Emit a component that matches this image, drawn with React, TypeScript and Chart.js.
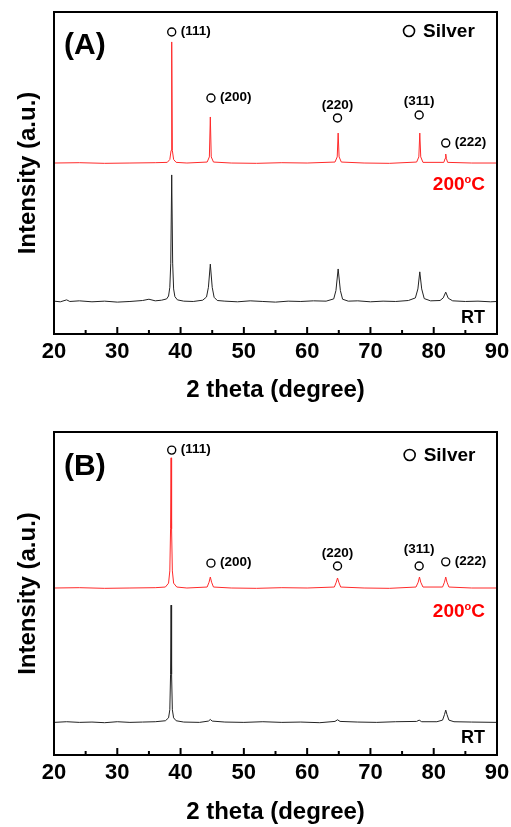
import React, { useEffect, useRef } from 'react';
import { Chart, registerables } from 'chart.js';

Chart.register(...registerables);

const FONT = "'Liberation Sans', Arial, Helvetica, sans-serif";

const X_MIN = 20;
const X_MAX = 90;
const X_TICK_STEP = 5;
const Y_MIN = 0;
const Y_MAX = 100;
const X_TITLE = '2 theta (degree)';
const Y_TITLE = 'Intensity (a.u.)';

const PEAK_LABELS = ['(111)', '(200)', '(220)', '(311)', '(222)'];
const PEAK_LABEL_SIDE = ['right', 'right', 'top', 'top', 'right'];
const LEGEND_TEXT = 'Silver';
const TEMP_MAIN = '200';
const TEMP_SUP = 'o';
const TEMP_UNIT = 'C';
const RT_TEXT = 'RT';

// Panel A ------------------------------------------------------------
const A_RT: [number, number][] = [
  [20, 10.2], [21, 10.0], [22, 10.6], [22.5, 10.1], [24, 10.3], [26, 10.0], [28, 10.2], [30, 9.9],
  [32, 10.1], [34, 10.4], [35, 10.8], [36, 10.3], [37, 10.5], [37.8, 10.9], [38.1, 11.8], [38.3, 14.5],
  [38.45, 22], [38.6, 49.4], [38.75, 22], [38.9, 14], [39.1, 11.6], [39.5, 10.6], [40.5, 10.2], [42, 10.1],
  [43.5, 10.5], [44.1, 11.5], [44.4, 14.5], [44.7, 21.7], [45.0, 14.5], [45.3, 11.4], [45.8, 10.4], [47, 10.2],
  [49, 10.0], [51, 10.3], [53, 10.1], [55, 9.9], [57, 10.2], [59, 10.1], [61, 10.3], [63, 10.2],
  [64.2, 10.9], [64.55, 13.5], [64.9, 20.2], [65.25, 13.5], [65.6, 10.8], [66.5, 10.2], [68, 10.3], [70, 10.0],
  [72, 10.2], [74, 10.1], [76, 10.4], [77.1, 11.2], [77.5, 14], [77.8, 19.3], [78.1, 14], [78.5, 11],
  [79.5, 10.3], [81, 10.4], [81.5, 11.2], [81.9, 13], [82.3, 11.1], [83, 10.3], [85, 10.1], [87, 10.2],
  [89, 10.0], [90, 10.1],
];
const A_200C: [number, number][] = [
  [20, 53.1], [24, 53.2], [28, 53.0], [32, 53.1], [36, 53.2], [37.9, 53.3], [38.3, 54.2], [38.5, 57],
  [38.6, 90.7], [38.7, 57], [38.9, 54.2], [39.3, 53.3], [41, 53.1], [44.2, 53.4], [44.55, 55], [44.7, 67.4],
  [44.85, 55], [45.2, 53.4], [48, 53.1], [52, 53.0], [56, 53.2], [60, 53.1], [64.4, 53.4], [64.75, 55],
  [64.9, 62.4], [65.05, 55], [65.4, 53.4], [69, 53.1], [73, 53.0], [77.3, 53.4], [77.65, 55], [77.8, 62.4],
  [77.95, 55], [78.3, 53.3], [81.6, 53.3], [81.8, 54.5], [81.9, 55.9], [82.0, 54.5], [82.2, 53.3], [86, 53.1],
  [90, 53.1],
];
const A_MARK_X = [38.6, 44.8, 64.8, 77.7, 81.9];
const A_MARK_Y = [93.8, 73.3, 67.1, 68.0, 59.3];
const A_LABEL_GAP = [9, 9, 6, 7, 9];
const A_LEGEND_XY = [76.1, 94.1];
const A_TEMP_XY = [88.1, 46.3];
const A_RT_XY = [88.1, 5.0];

// Panel B ------------------------------------------------------------
const B_RT: [number, number][] = [
  [20, 10.1], [22, 10.3], [24, 10.1], [26, 10.2], [28, 10.0], [30, 10.3], [32, 10.1], [34, 10.2],
  [36, 10.3], [37.6, 10.6], [38.1, 11.5], [38.3, 14], [38.42, 25], [38.5, 46.4], [38.58, 25], [38.7, 14],
  [38.9, 11.5], [39.3, 10.6], [40.5, 10.2], [43, 10.1], [44.4, 10.5], [44.7, 11.0], [45, 10.5], [47, 10.2],
  [50, 10.1], [53, 10.3], [56, 10.1], [59, 10.2], [62, 10.0], [64.4, 10.4], [64.8, 10.9], [65.2, 10.4],
  [68, 10.2], [71, 10.1], [74, 10.3], [77.3, 10.4], [77.7, 10.8], [78.1, 10.3], [80.5, 10.3], [81.4, 10.8],
  [81.7, 12.5], [81.9, 13.9], [82.1, 12.5], [82.4, 10.8], [83.2, 10.3], [86, 10.2], [90, 10.1],
];
const B_200C: [number, number][] = [
  [20, 51.7], [24, 51.8], [28, 51.6], [32, 51.7], [36, 51.8], [37.6, 52.0], [38.1, 53.2], [38.3, 57],
  [38.42, 70], [38.5, 92], [38.58, 70], [38.7, 57], [38.9, 53.2], [39.4, 52.0], [41, 51.7], [44.2, 52.0],
  [44.5, 53.5], [44.7, 55.1], [44.9, 53.5], [45.2, 52.0], [48, 51.7], [52, 51.6], [56, 51.8], [60, 51.7],
  [64.3, 52.0], [64.6, 53.5], [64.8, 54.8], [65.0, 53.5], [65.3, 52.0], [69, 51.7], [73, 51.6], [77.2, 52.0],
  [77.55, 53.5], [77.75, 55.1], [77.95, 53.5], [78.3, 52.0], [81.4, 52.0], [81.7, 53.5], [81.9, 55.1], [82.1, 53.5],
  [82.4, 52.0], [86, 51.7], [90, 51.7],
];
const B_MARK_X = [38.6, 44.8, 64.8, 77.7, 81.9];
const B_MARK_Y = [94.4, 59.4, 58.5, 58.5, 59.8];
const B_LABEL_GAP = [9, 9, 6, 10, 9];
const B_LEGEND_XY = [76.2, 92.9];
const B_TEMP_XY = [88.1, 44.3];
const B_RT_XY = [88.1, 5.3];

type PanelCfg = {
  panel: string;
  rt: [number, number][];
  hot: [number, number][];
  markX: number[];
  markY: number[];
  labelGap: number[];
  legendXY: number[];
  tempXY: number[];
  rtXY: number[];
  height: number;
  padTop: number;
  xAxisHeight: number;
  xTitlePadBottom: number;
  panelLabelDy: number;
};

function makePlugin(cfg: PanelCfg) {
  return {
    id: 'xrdDecor',
    afterDraw(chart: any) {
      const { ctx, chartArea } = chart;
      const { left, right, top, bottom } = chartArea;
      const xs = chart.scales.x;
      const ys = chart.scales.y;
      ctx.save();
      ctx.strokeStyle = '#000';
      ctx.fillStyle = '#000';
      // frame
      ctx.lineWidth = 2;
      ctx.strokeRect(left, top, right - left, bottom - top);
      // inward ticks
      xs.ticks.forEach((t: any) => {
        const px = xs.getPixelForValue(t.value);
        const len = Math.round(t.value) % 10 === 0 ? 7 : 4;
        ctx.beginPath();
        ctx.moveTo(px, bottom);
        ctx.lineTo(px, bottom - len);
        ctx.stroke();
      });
      // peak markers
      ctx.lineWidth = 1.4;
      ctx.font = `bold 13.5px ${FONT}`;
      cfg.markX.forEach((mx, i) => {
        const px = xs.getPixelForValue(mx);
        const py = ys.getPixelForValue(cfg.markY[i]);
        ctx.beginPath();
        ctx.arc(px, py, 4, 0, Math.PI * 2);
        ctx.stroke();
        if (PEAK_LABEL_SIDE[i] === 'right') {
          ctx.textAlign = 'left';
          ctx.textBaseline = 'middle';
          ctx.fillText(PEAK_LABELS[i], px + cfg.labelGap[i], py - 1);
        } else {
          ctx.textAlign = 'center';
          ctx.textBaseline = 'bottom';
          ctx.fillText(PEAK_LABELS[i], px, py - cfg.labelGap[i]);
        }
      });
      // legend
      {
        const px = xs.getPixelForValue(cfg.legendXY[0]);
        const py = ys.getPixelForValue(cfg.legendXY[1]);
        ctx.lineWidth = 1.6;
        ctx.beginPath();
        ctx.arc(px, py, 5.5, 0, Math.PI * 2);
        ctx.stroke();
        ctx.font = `bold 19px ${FONT}`;
        ctx.textAlign = 'left';
        ctx.textBaseline = 'middle';
        ctx.fillText(LEGEND_TEXT, px + 14, py + 1);
      }
      // panel label
      ctx.font = `bold 30px ${FONT}`;
      ctx.textAlign = 'left';
      ctx.textBaseline = 'middle';
      ctx.fillText(cfg.panel, left + 10, top + cfg.panelLabelDy);
      // temperature label (red)
      {
        const rx = xs.getPixelForValue(cfg.tempXY[0]);
        const py = ys.getPixelForValue(cfg.tempXY[1]);
        ctx.fillStyle = '#ff0000';
        ctx.textBaseline = 'middle';
        ctx.textAlign = 'left';
        ctx.font = `bold 19px ${FONT}`;
        const wMain = ctx.measureText(TEMP_MAIN).width;
        const wUnit = ctx.measureText(TEMP_UNIT).width;
        ctx.font = `bold 11px ${FONT}`;
        const wSup = ctx.measureText(TEMP_SUP).width;
        const x0 = rx - (wMain + wSup + wUnit);
        ctx.font = `bold 19px ${FONT}`;
        ctx.fillText(TEMP_MAIN, x0, py);
        ctx.fillText(TEMP_UNIT, x0 + wMain + wSup, py);
        ctx.font = `bold 11px ${FONT}`;
        ctx.fillText(TEMP_SUP, x0 + wMain, py - 5);
      }
      // RT label
      {
        const rx = xs.getPixelForValue(cfg.rtXY[0]);
        const py = ys.getPixelForValue(cfg.rtXY[1]);
        ctx.fillStyle = '#000';
        ctx.font = `bold 18px ${FONT}`;
        ctx.textAlign = 'right';
        ctx.textBaseline = 'middle';
        ctx.fillText(RT_TEXT, rx, py);
      }
      ctx.restore();
    },
  };
}

function Panel({ cfg }: { cfg: PanelCfg }) {
  const ref = useRef<HTMLCanvasElement | null>(null);
  useEffect(() => {
    if (!ref.current) return;
    const chart = new Chart(ref.current, {
      type: 'line',
      data: {
        datasets: [
          {
            label: '200C',
            data: cfg.hot as any,
            borderColor: '#ff2a2a',
            borderWidth: 1,
            pointRadius: 0,
            tension: 0,
            fill: false,
          },
          {
            label: 'RT',
            data: cfg.rt as any,
            borderColor: '#222222',
            borderWidth: 1,
            pointRadius: 0,
            tension: 0,
            fill: false,
          },
        ],
      },
      options: {
        animation: false,
        responsive: false,
        devicePixelRatio: 1,
        layout: { padding: { top: cfg.padTop, right: 14, bottom: 0, left: 0 } },
        plugins: { legend: { display: false }, tooltip: { enabled: false } },
        scales: {
          x: {
            type: 'linear',
            min: X_MIN,
            max: X_MAX,
            afterFit: (s: any) => {
              s.height = cfg.xAxisHeight;
              s.paddingLeft = 0;
              s.paddingRight = 0;
            },
            ticks: {
              stepSize: X_TICK_STEP,
              autoSkip: false,
              maxRotation: 0,
              padding: 5,
              color: '#000',
              font: { family: FONT, size: 22, weight: 'bold' },
              callback: (v: any) => (Math.round(v) % 10 === 0 ? String(v) : ''),
            },
            grid: { display: false, drawTicks: false },
            border: { display: false },
            title: {
              display: true,
              text: X_TITLE,
              color: '#000',
              font: { family: FONT, size: 24, weight: 'bold' },
              padding: { top: 0, bottom: cfg.xTitlePadBottom },
            },
          },
          y: {
            type: 'linear',
            min: Y_MIN,
            max: Y_MAX,
            afterFit: (s: any) => { s.width = 54; },
            ticks: { display: false },
            grid: { display: false, drawTicks: false },
            border: { display: false },
            title: {
              display: true,
              text: Y_TITLE,
              color: '#000',
              font: { family: FONT, size: 24, weight: 'bold' },
              padding: { top: 14, bottom: 0 },
            },
          },
        },
      } as any,
      plugins: [makePlugin(cfg)],
    });
    return () => chart.destroy();
  }, [cfg]);
  return <canvas ref={ref} width={511} height={cfg.height} style={{ display: 'block', width: 511, height: cfg.height }} />;
}

const CFG_A: PanelCfg = {
  panel: '(A)', rt: A_RT, hot: A_200C, markX: A_MARK_X, markY: A_MARK_Y, labelGap: A_LABEL_GAP,
  legendXY: A_LEGEND_XY, tempXY: A_TEMP_XY, rtXY: A_RT_XY,
  height: 410, padTop: 12, xAxisHeight: 76, xTitlePadBottom: 5.6, panelLabelDy: 34,
};
const CFG_B: PanelCfg = {
  panel: '(B)', rt: B_RT, hot: B_200C, markX: B_MARK_X, markY: B_MARK_Y, labelGap: B_LABEL_GAP,
  legendXY: B_LEGEND_XY, tempXY: B_TEMP_XY, rtXY: B_RT_XY,
  height: 417, padTop: 22, xAxisHeight: 72, xTitlePadBottom: 0.6, panelLabelDy: 35,
};

export default function App() {
  return (
    <div style={{ position: 'absolute', left: 0, top: 0, width: 511, height: 827, background: '#fff', overflow: 'hidden' }}>
      <div style={{ position: 'absolute', left: 0, top: 0 }}>
        <Panel cfg={CFG_A} />
      </div>
      <div style={{ position: 'absolute', left: 0, top: 410 }}>
        <Panel cfg={CFG_B} />
      </div>
    </div>
  );
}
